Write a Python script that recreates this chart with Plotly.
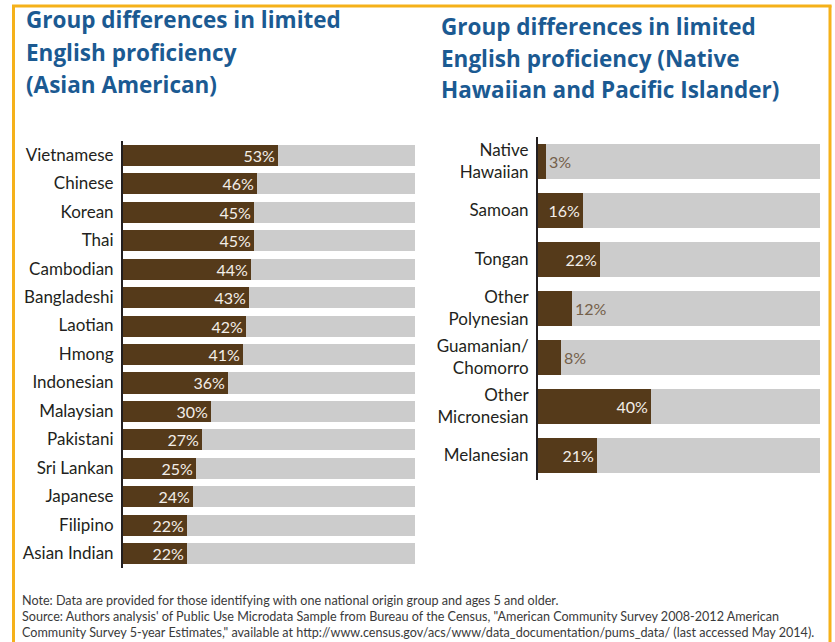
import plotly.graph_objects as go

# ---- data ----
asian_groups = ["Vietnamese", "Chinese", "Korean", "Thai", "Cambodian", "Bangladeshi",
                "Laotian", "Hmong", "Indonesian", "Malaysian", "Pakistani", "Sri Lankan",
                "Japanese", "Filipino", "Asian Indian"]
asian_values = [53, 46, 45, 45, 44, 43, 42, 41, 36, 30, 27, 25, 24, 22, 22]

nhpi_groups = ["Native<br>Hawaiian", "Samoan", "Tongan", "Other<br>Polynesian",
               "Guamanian/<br>Chomorro", "Other<br>Micronesian", "Melanesian"]
nhpi_values = [3, 16, 22, 12, 8, 40, 21]

full_scale = 100

title_left = ["Group differences in limited", "English proficiency", "(Asian American)"]
title_right = ["Group differences in limited", "English proficiency (Native",
               "Hawaiian and Pacific Islander)"]
notes = [
    "Note: Data are provided for those identifying with one national origin group and ages 5 and older.",
    "Source: Authors analysis' of Public Use Microdata Sample from Bureau of the Census, \"American Community Survey 2008-2012 American",
    "Community Survey 5-year Estimates,\" available at http://www.census.gov/acs/www/data_documentation/pums_data/ (last accessed May 2014).",
]

# ---- style ----
W, H = 835, 642
BROWN = "#553a1a"
GRAY = "#cccccc"
BLUE = "#1b5a92"
INK = "#231f20"
BORDER = "#f5b11a"
FONT = "Lato"
TITLE_FONT = "Open Sans"


def px_x(x):
    return x / W


def px_y(y):
    return 1 - y / H


def positions(values, threshold=15):
    return ["inside" if v >= threshold else "outside" for v in values]


fig = go.Figure()

panels = [
    (asian_groups, asian_values, "x", "y", 0.74),
    (nhpi_groups, nhpi_values, "x2", "y2", 0.72),
]
for groups, values, xa, ya, bw in panels:
    fig.add_trace(go.Bar(
        x=[full_scale] * len(groups), y=groups, orientation="h",
        marker=dict(color=GRAY, line=dict(width=0)), width=bw,
        xaxis=xa, yaxis=ya, hoverinfo="skip", showlegend=False,
    ))
    fig.add_trace(go.Bar(
        x=values, y=groups, orientation="h",
        marker=dict(color=BROWN, line=dict(width=0)), width=bw,
        text=[f"{v}%" for v in values], textposition=positions(values),
        insidetextanchor="end", textangle=0, constraintext="none",
        insidetextfont=dict(family=FONT, size=16, color="#f3eee8"),
        outsidetextfont=dict(family=FONT, size=16, color="#74604a"),
        cliponaxis=False,
        xaxis=xa, yaxis=ya, showlegend=False,
    ))

axis_common = dict(showgrid=False, zeroline=False, showticklabels=False, range=[0, full_scale],
                   fixedrange=True)
yaxis_common = dict(showgrid=False, zeroline=False, showline=True, linecolor=INK, linewidth=2,
                    ticks="", ticklabelstandoff=4, autorange="reversed",
                    tickfont=dict(family=FONT, size=17, color=INK), fixedrange=True)

fig.update_layout(
    width=W, height=H,
    margin=dict(l=0, r=0, t=0, b=0),
    paper_bgcolor="white", plot_bgcolor="white",
    barmode="overlay", bargap=0,
    font=dict(family=FONT, color=INK),
    xaxis=dict(domain=[px_x(123), px_x(415)], anchor="y", **axis_common),
    yaxis=dict(domain=[px_y(567.5), px_y(140.5)], anchor="x",
               categoryorder="array", categoryarray=asian_groups, **yaxis_common),
    xaxis2=dict(domain=[px_x(538), px_x(820)], anchor="y2", **axis_common),
    yaxis2=dict(domain=[px_y(480), px_y(137)], anchor="x2",
                categoryorder="array", categoryarray=nhpi_groups, **yaxis_common),
)

annotations = []
for i, line in enumerate(title_left):
    annotations.append(dict(text=f"<b>{line}</b>", x=px_x(24), y=px_y(37 + 32.5 * i),
                            xref="paper", yref="paper", xanchor="left", yanchor="bottom",
                            showarrow=False, font=dict(family=TITLE_FONT, size=22.5, color=BLUE)))
for i, line in enumerate(title_right):
    annotations.append(dict(text=f"<b>{line}</b>", x=px_x(439), y=px_y(44 + 31.5 * i),
                            xref="paper", yref="paper", xanchor="left", yanchor="bottom",
                            showarrow=False, font=dict(family=TITLE_FONT, size=22.5, color=BLUE)))
for i, line in enumerate(notes):
    annotations.append(dict(text=line, x=px_x(20), y=px_y(610 + 16 * i),
                            xref="paper", yref="paper", xanchor="left", yanchor="bottom",
                            showarrow=False,
                            font=dict(family=FONT, size=12.6, color="#3a3a3a")))
fig.update_layout(annotations=annotations)

# orange frame (left, top, right edges)
frame = dict(type="line", xref="paper", yref="paper", line=dict(color=BORDER, width=3))
fig.update_layout(shapes=[
    dict(frame, x0=px_x(13.5), x1=px_x(13.5), y0=0, y1=px_y(5.5)),
    dict(frame, x0=px_x(12), x1=px_x(831.5), y0=px_y(6), y1=px_y(6)),
    dict(frame, x0=px_x(830), x1=px_x(830), y0=0, y1=px_y(5.5)),
])

fig.write_html("out.html",
               config={"displayModeBar": False},
               post_script="document.body.style.margin='0';document.body.style.overflow='hidden';")
